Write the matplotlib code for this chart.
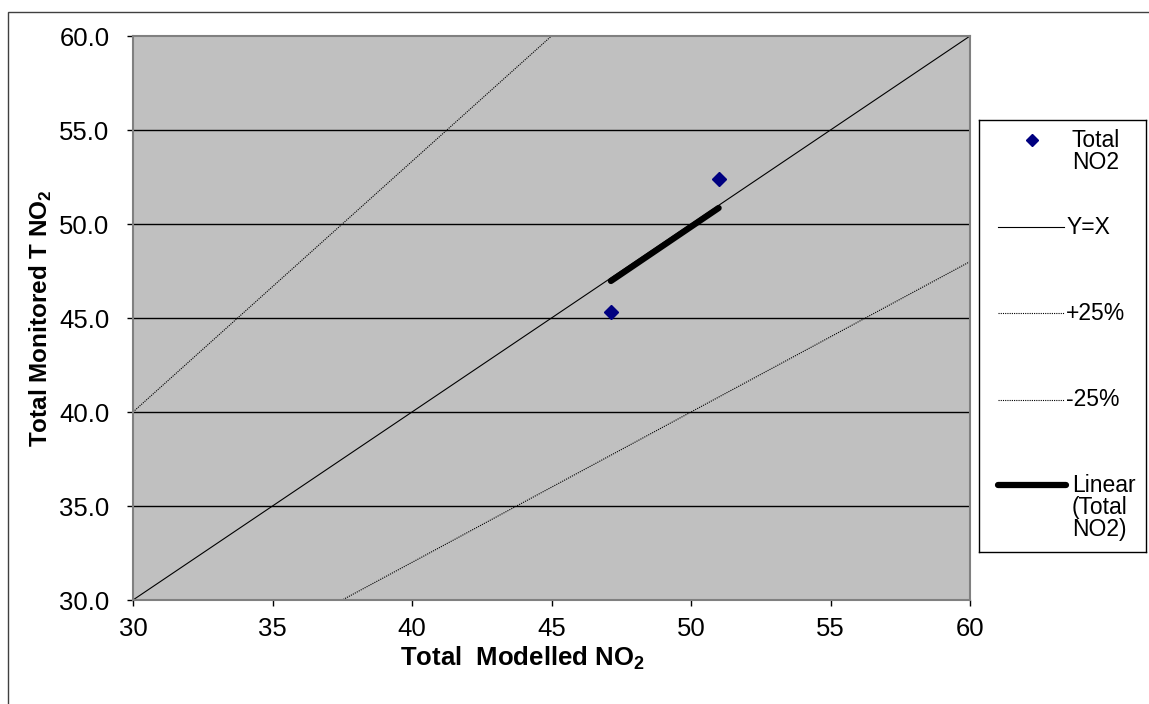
import numpy as np
import matplotlib
matplotlib.use("Agg")
import matplotlib.pyplot as plt
from matplotlib.patches import Rectangle
from matplotlib.lines import Line2D

plt.rcParams["font.family"] = ["Liberation Sans", "DejaVu Sans"]
plt.rcParams["mathtext.fontset"] = "custom"
plt.rcParams["mathtext.rm"] = "Liberation Sans"
plt.rcParams["mathtext.bf"] = "Liberation Sans:bold"

# data
modelled = [47.13, 50.99]
monitored = [45.32, 52.39]
trend_x = [47.13, 50.99]
trend_y = [46.97, 50.85]
ref_x = [30, 60]
x_ticks = [30, 35, 40, 45, 50, 55, 60]
y_ticks = [30.0, 35.0, 40.0, 45.0, 50.0, 55.0, 60.0]

W, H = 1149, 704
fig = plt.figure(figsize=(W / 100, H / 100), dpi=100)

# figure border (only left and top visible)
fig.add_artist(Rectangle((8 / W, -0.1), 1.2, (H - 12) / H + 0.1, transform=fig.transFigure,
                         fill=False, edgecolor="#404040", linewidth=1.0))

ax = fig.add_axes([133 / W, (H - 600) / H, (970 - 133) / W, (600 - 36) / H])
ax.set_facecolor("#c0c0c0")
ax.set_xlim(30, 60)
ax.set_ylim(30, 60)

for y in y_ticks[1:-1]:
    ax.axhline(y, color="black", linewidth=1.0, zorder=1)

xs = np.array(ref_x, dtype=float)
ax.plot(xs, xs, color="black", linewidth=0.8, zorder=2)
ax.plot(xs, xs / 0.75, color="black", linewidth=0.8, linestyle=(0, (1, 1)), zorder=2)
ax.plot(xs, xs / 1.25, color="black", linewidth=0.8, linestyle=(0, (1, 1)), zorder=2)
ax.plot(trend_x, trend_y, color="black", linewidth=4.5, solid_capstyle="round", zorder=3)
ax.plot(modelled, monitored, linestyle="none", marker="D", markersize=7,
        color="#000080", zorder=4)

for s in ax.spines.values():
    s.set_color("#808080")
    s.set_linewidth(1.5)

ax.set_xticks(x_ticks)
ax.set_yticks(y_ticks)
ax.set_xticklabels([str(t) for t in x_ticks])
ax.set_yticklabels(["%.1f" % t for t in y_ticks])
ax.tick_params(axis="both", direction="out", length=4, width=1, color="black",
               labelsize=18.5)
ax.tick_params(axis="x", pad=8)
ax.tick_params(axis="y", pad=13)

ax.set_xlabel(r"Total  Modelled NO$_\mathbf{2}$", fontsize=18.5, fontweight="bold")
ax.xaxis.set_label_coords((522 - 133) / 837, -(645 - 600) / 564)
ax.set_ylabel(r"Total Monitored T NO$_\mathbf{2}$", fontsize=17.5, fontweight="bold")
ax.yaxis.set_label_coords(-(133 - 54) / 837, 0.5)

# legend box drawn in pixel coordinates
lg = fig.add_axes([979 / W, (H - 552) / H, (1146 - 979) / W, (552 - 120) / H])
lg.set_xlim(979, 1146)
lg.set_ylim(552, 120)
lg.set_xticks([])
lg.set_yticks([])
for s in lg.spines.values():
    s.set_color("black")
    s.set_linewidth(1.0)

fs = 16.5
lg.add_line(Line2D([1032], [140], marker="D", markersize=6, color="#000080", linestyle="none"))
lg.text(1072, 129, "Total\nNO2", fontsize=fs, va="top", linespacing=0.95)
lg.add_line(Line2D([998, 1064], [227, 227], color="black", linewidth=0.8))
lg.text(1067, 227, "Y=X", fontsize=fs, va="center")
lg.add_line(Line2D([998, 1064], [313, 313], color="black", linewidth=0.8, linestyle=(0, (1, 1))))
lg.text(1066, 313, "+25%", fontsize=fs, va="center")
lg.add_line(Line2D([998, 1064], [400, 400], color="black", linewidth=0.8, linestyle=(0, (1, 1))))
lg.text(1066, 400, "-25%", fontsize=fs, va="center")
lg.add_line(Line2D([998, 1066], [485, 485], color="black", linewidth=4.5, solid_capstyle="round"))
lg.text(1072, 474, "Linear\n(Total\nNO2)", fontsize=fs, va="top", linespacing=0.95)

fig.savefig("out.png", dpi=100)
